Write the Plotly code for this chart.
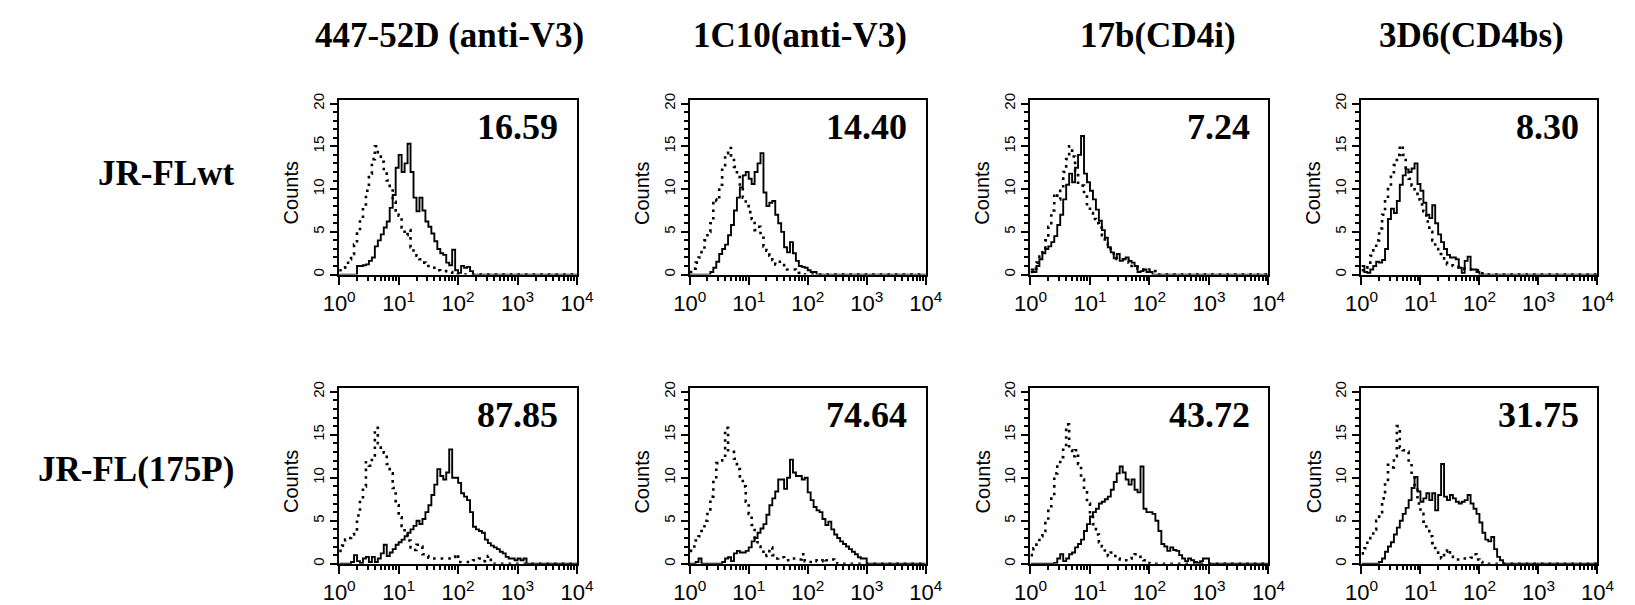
import numpy as np
import plotly.graph_objects as go

# flow cytometry histograms, log10 fluorescence on a 0.05 channel grid starting at 10^0
antibodies = ["447-52D (anti-V3)", "1C10(anti-V3)", "17b(CD4i)", "3D6(CD4bs)"]
viruses = ["JR-FLwt", "JR-FL(175P)"]
pct_wt = ["16.59", "14.40", "7.24", "8.30"]
pct_175p = ["87.85", "74.64", "43.72", "31.75"]

# JR-FLwt row
wt_447_dot = [0.5, 0.8, 1.2, 1.8, 2.4, 3.5, 5.0, 6.5, 8.2, 9.8, 11.8, 13.5, 15.0, 13.8, 13.2, 12.0, 11.0, 10.0, 8.5, 7.5,
              6.9, 5.5, 4.6, 5.2, 3.2, 2.6, 2.2, 1.8, 1.4, 1.2, 1.0, 1.0, 0.6, 0.5, 0.4, 0.4, 0.4, 0.3]
wt_447_sol = [0, 0, 0, 0, 0, 0, 1.0, 1.0, 1.1, 1.2, 1.6, 2.0, 3.3, 4.0, 4.7, 5.5, 6.2, 7.8, 9.3, 12.5,
              14.0, 12.0, 13.0, 15.3, 12.0, 9.0, 7.4, 9.0, 7.5, 6.2, 5.6, 4.8, 3.9, 3.0, 2.5, 2.3, 1.4, 1.1, 2.9, 0.5,
              0.2, 1.0, 0.8, 0.9, 0.4]
wt_1c10_dot = [0.3, 0.7, 1.4, 2.0, 2.8, 4.0, 5.0, 6.0, 8.8, 8.6, 10.5, 12.6, 14.2, 14.8, 13.6, 12.6, 11.4, 10.2, 9.0, 8.0,
               7.3, 6.5, 5.2, 5.6, 4.5, 3.3, 2.8, 2.2, 1.7, 1.2, 1.5, 1.3, 0.8, 0.6, 0.6, 0.6, 0.5, 0.2]
wt_1c10_sol = [0, 0, 0, 0, 0, 0, 0, 0.3, 0.8, 1.5, 2.4, 3.0, 3.5, 4.6, 5.8, 7.5, 9.0, 10.2, 11.6, 12.0,
               11.2, 10.6, 12.0, 13.0, 14.2, 9.6, 8.0, 8.4, 8.6, 7.0, 6.0, 5.0, 3.2, 2.6, 3.8, 2.5, 1.6, 1.0, 0.9, 0.8,
               0.5, 0.3, 0.3]
wt_17b_dot = [0.3, 0.7, 1.4, 2.1, 3.0, 4.0, 5.6, 7.5, 9.5, 8.8, 10.0, 12.0, 13.5, 15.0, 13.8, 12.0, 10.5, 10.4, 9.4, 8.0,
              7.2, 6.5, 6.0, 5.5, 4.6, 3.6, 3.0, 2.5, 2.1, 1.8, 1.8, 1.8, 1.6, 1.4, 1.0, 0.9, 0.7, 0.6, 0.6, 0.5,
              0.6, 0.4]
wt_17b_sol = [0.6, 0.3, 1.0, 1.8, 2.5, 3.0, 3.3, 3.8, 4.5, 5.8, 7.0, 8.8, 10.5, 11.8, 10.8, 12.5, 14.0, 16.2, 11.8, 10.8,
              9.8, 8.8, 7.6, 6.3, 5.2, 4.3, 3.2, 2.6, 1.9, 2.4, 1.6, 1.8, 2.0, 1.6, 1.4, 1.0, 0.3, 0.4, 0.6, 0.3, 0.3]
wt_3d6_dot = [0.5, 0.8, 1.4, 2.2, 3.0, 4.0, 5.4, 7.0, 8.8, 10.2, 11.6, 12.8, 14.0, 15.1, 14.0, 12.2, 11.2, 10.4, 9.6, 8.8,
              8.2, 7.4, 6.2, 5.0, 4.0, 3.0, 2.4, 1.9, 1.4, 1.2, 1.1, 1.0, 0.9, 0.8, 0.7, 0.6, 0.6, 0.6, 0.6, 0.5, 0.5]
wt_3d6_sol = [1.0, 0.3, 0.2, 0.6, 1.0, 1.5, 1.4, 1.7, 3.0, 6.5, 7.7, 7.2, 8.6, 10.5, 11.6, 12.3, 12.0, 12.4, 13.0, 10.6,
              9.8, 8.4, 7.0, 6.6, 8.1, 6.0, 4.7, 3.8, 3.0, 2.3, 2.0, 2.0, 1.8, 0.8, 0.2, 1.6, 2.1, 0.6, 0.6, 0.3]

# JR-FL(175P) row
p175_447_dot = [1.5, 2.1, 2.8, 3.0, 3.4, 4.0, 5.6, 7.5, 9.0, 11.8, 11.4, 12.6, 15.8, 14.0, 13.2, 12.9, 11.6, 10.5, 8.8, 6.8,
                5.4, 4.4, 3.6, 2.7, 1.9, 1.6, 2.2, 2.0, 1.1, 0.9, 0.7, 0.6, 0.6, 0.6, 0.6, 0.6, 0.6, 0.6, 0.8, 1.1,
                0.2, 0.2, 0.2, 0.2, 0.3, 0.4, 0.5, 0.6, 0.3, 0.6, 0.9]
p175_447_sol = [0, 0, 0, 0, 0.2, 1.0, 0.3, 0.1, 0.6, 0.8, 0.2, 0.8, 0.2, 0.6, 1.2, 2.2, 0.9, 1.3, 1.7, 2.2,
                2.5, 2.8, 3.2, 3.6, 4.0, 4.4, 5.0, 4.6, 5.2, 6.0, 6.8, 8.0, 9.2, 11.0, 10.2, 9.8, 10.6, 13.3, 10.0, 10.0,
                9.4, 8.2, 7.8, 7.4, 6.0, 4.3, 4.0, 3.8, 3.6, 2.8, 2.4, 2.1, 1.9, 1.7, 1.4, 1.2, 0.8, 0.6, 0.6, 0.4,
                0.6, 0.4, 0.6]
p175_1c10_dot = [1.5, 2.0, 2.7, 3.2, 3.8, 5.0, 6.0, 7.8, 9.5, 11.7, 12.0, 12.4, 15.8, 13.2, 13.0, 12.2, 11.0, 9.8, 9.0, 7.2,
                 5.8, 4.5, 3.0, 2.0, 1.4, 0.9, 1.0, 1.9, 1.0, 0.6, 0.7, 0.75, 0.4, 0.4, 0.6, 0.6, 0.5, 0.5, 1.1, 0.3,
                 0.2, 0.2, 0.4, 0.3, 0.3, 0.6, 0.4, 0.4, 0.5, 0.3]
p175_1c10_sol = [0, 0, 0.2, 0.6, 0, 0, 0, 0, 0, 0, 0, 0.2, 0.6, 0.75, 0.3, 1.2, 1.5, 1.3, 1.3, 1.5,
                 1.9, 2.6, 3.0, 3.6, 4.1, 4.6, 5.7, 6.8, 7.6, 8.4, 9.8, 9.8, 8.7, 10.0, 12.1, 10.6, 10.2, 10.2, 9.8, 10.0,
                 8.3, 7.4, 6.6, 6.2, 6.0, 5.2, 4.5, 4.9, 4.0, 3.4, 3.0, 2.6, 2.3, 2.0, 1.7, 1.4, 1.1, 0.75, 0.6, 0.6]
p175_17b_dot = [1.0, 1.8, 2.5, 3.2, 3.8, 5.0, 6.4, 7.8, 10.5, 11.6, 12.4, 13.8, 16.2, 13.2, 12.5, 13.2, 11.6, 9.8, 8.3, 7.0,
                5.6, 4.6, 3.4, 2.5, 2.0, 1.0, 0.9, 1.3, 0.9, 0.6, 0.5, 0.4, 0.4, 0.6, 1.0, 1.1, 0.8, 0.6, 0.4, 0.4]
p175_17b_sol = [0, 0, 0, 0, 0, 0, 0, 0, 0.1, 0.6, 1.1, 0.3, 0.6, 1.1, 1.3, 1.9, 2.3, 2.8, 3.8, 4.6,
                5.5, 6.0, 6.4, 7.0, 7.2, 7.5, 7.8, 8.6, 9.5, 10.5, 11.3, 10.6, 9.8, 9.2, 9.8, 8.6, 8.3, 11.3, 6.4, 6.0,
                6.0, 5.8, 5.0, 3.8, 2.3, 2.0, 1.5, 1.9, 1.6, 1.5, 1.0, 0.6, 0.3, 0.6, 0.4, 0.2, 0.1, 0.3, 0.6, 0.6]
p175_3d6_dot = [1.2, 1.8, 2.6, 3.2, 4.0, 5.0, 6.0, 7.6, 9.5, 11.5, 11.2, 12.5, 16.0, 13.5, 13.2, 13.0, 11.8, 10.4, 8.8, 7.0,
                5.8, 4.9, 4.0, 3.2, 2.4, 1.6, 0.9, 0.6, 1.4, 1.7, 0.8, 0.6, 0.5, 0.5, 0.6, 0.6, 0.6, 0.7, 1.1, 0.5, 0.2]
p175_3d6_sol = [0, 0, 0, 0, 0, 0, 0.2, 0.6, 1.4, 2.0, 2.5, 3.4, 4.2, 5.0, 5.8, 6.5, 7.4, 8.8, 10.1, 8.4,
                7.2, 7.6, 8.2, 7.4, 8.2, 6.2, 8.0, 11.6, 7.8, 7.4, 8.0, 7.6, 7.2, 7.0, 7.2, 7.4, 8.0, 7.0, 6.4, 5.8,
                4.8, 3.6, 2.8, 2.6, 3.1, 1.7, 0.8, 0.4]

dotted = [[wt_447_dot, wt_1c10_dot, wt_17b_dot, wt_3d6_dot],
          [p175_447_dot, p175_1c10_dot, p175_17b_dot, p175_3d6_dot]]
solid = [[wt_447_sol, wt_1c10_sol, wt_17b_sol, wt_3d6_sol],
         [p175_447_sol, p175_1c10_sol, p175_17b_sol, p175_3d6_sol]]
pct = [pct_wt, pct_175p]

channels = [i * 0.05 for i in range(81)]  # log10 channel positions 0..4


def pad(v):
    return v + [0.0] * (len(channels) - len(v))


W, H = 1635, 605
cols = [(329, 572), (687, 928), (1035, 1278), (1373, 1614)]  # panel left/right in px
rows = [(95, 273), (389, 568)]  # panel top/bottom in px

SERIF = "Liberation Serif, Times New Roman, serif"
NARROW = "Liberation Sans Narrow, Arial Narrow, Liberation Sans, Arial, sans-serif"
SANS = "Liberation Sans, Arial, sans-serif"

minor_x = [k + np.log10(m) for k in range(4) for m in range(2, 10)]

fig = go.Figure()
annotations = []
for r in range(2):
    for c in range(4):
        n = r * 4 + c + 1
        xa = "x" if n == 1 else "x%d" % n
        ya = "y" if n == 1 else "y%d" % n
        fig.add_trace(go.Scatter(x=channels, y=pad(dotted[r][c]), mode="lines", xaxis=xa, yaxis=ya,
                                 line=dict(color="black", width=2.6, dash="2.6px,5px", shape="hv"),
                                 hoverinfo="skip", showlegend=False))
        fig.add_trace(go.Scatter(x=channels, y=pad(solid[r][c]), mode="lines", xaxis=xa, yaxis=ya,
                                 line=dict(color="black", width=1.9, shape="hv"),
                                 hoverinfo="skip", showlegend=False))
        l, rt = cols[c]
        t, b = rows[r]
        fig.layout["xaxis" if n == 1 else "xaxis%d" % n] = dict(
            domain=[l / W, rt / W], anchor=ya, range=[0, 4],
            tickmode="array", tickvals=[0, 1, 2, 3, 4],
            ticktext=["10<sup>%d</sup>" % k for k in range(5)],
            ticks="outside", ticklen=8, tickwidth=2, tickcolor="black",
            minor=dict(tickmode="array", tickvals=minor_x, ticks="outside", ticklen=4, tickwidth=1.5,
                       tickcolor="black"),
            tickfont=dict(family=NARROW, size=22, color="black"),
            showline=True, linewidth=2, linecolor="black", mirror=True,
            showgrid=False, zeroline=False, fixedrange=True)
        fig.layout["yaxis" if n == 1 else "yaxis%d" % n] = dict(
            domain=[1 - b / H, 1 - t / H], anchor=xa, range=[0, 20.4],
            tickmode="array", tickvals=[0, 5, 10, 15, 20], tickangle=-90,
            ticks="outside", ticklen=7, tickwidth=2, tickcolor="black",
            minor=dict(dtick=1, tick0=0, ticks="outside", ticklen=4, tickwidth=1.5, tickcolor="black"),
            tickfont=dict(family=SANS, size=15, color="black"),
            showline=True, linewidth=2, linecolor="black", mirror=True,
            showgrid=False, zeroline=False, fixedrange=True)
        annotations.append(dict(text=pct[r][c], xref="paper", yref="paper",
                                x=(rt - 17) / W, y=1 - (t + 27) / H, xanchor="right", yanchor="middle",
                                showarrow=False, font=dict(family=SERIF, size=36, color="black", weight="bold")))
        annotations.append(dict(text="Counts", xref="paper", yref="paper", textangle=-90,
                                x=(l - 49) / W, y=1 - ((t + b) / 2 + 6) / H, xanchor="center", yanchor="middle",
                                showarrow=False, font=dict(family=SANS, size=20, color="black")))

title_x = [442, 800, 1165, 1485]
for c in range(4):
    annotations.append(dict(text=antibodies[c], xref="paper", yref="paper", x=title_x[c] / W, y=1 - 29 / H,
                            xanchor="center", yanchor="middle", showarrow=False,
                            font=dict(family=SERIF, size=35, color="black", weight="bold")))

label_y = [170, 472]
for r in range(2):
    annotations.append(dict(text=viruses[r], xref="paper", yref="paper",
                            x=224 / W, y=1 - label_y[r] / H,
                            xanchor="right", yanchor="middle", showarrow=False,
                            font=dict(family=SERIF, size=35, color="black", weight="bold")))

fig.update_layout(width=W, height=H, margin=dict(l=0, r=0, t=0, b=0),
                  paper_bgcolor="white", plot_bgcolor="white", annotations=annotations)

fig.write_html("out.html", config={"displayModeBar": False},
               post_script="document.body.style.margin='0';")
